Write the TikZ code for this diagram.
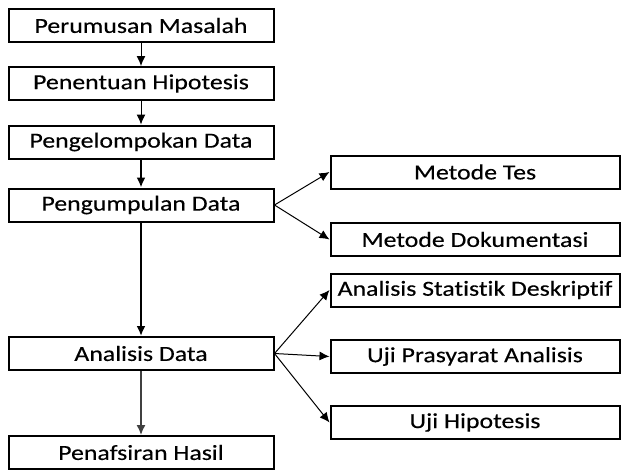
\documentclass[tikz,border=0pt]{standalone}
\usepackage{fontspec}
\setmainfont{Carlito}[FakeStretch=1.2, FakeBold=0.3, Ligatures=NoCommon]
\usetikzlibrary{arrows.meta}

\tikzset{
  caja/.style={draw, line width=2pt, minimum height=33pt, inner sep=0pt,
    font=\fontsize{21.5}{24}\selectfont},
  cajaizq/.style={caja, minimum width=265pt},
  cajader/.style={caja, minimum width=289pt},
  flecha/.style={-{Latex[length=10pt,width=9pt]}, line width=1pt},
  flechagruesa/.style={flecha, line width=2.2pt}
}

\begin{document}
\begin{tikzpicture}[x=1pt, y=-1pt]
    \useasboundingbox (0,0) rectangle (624,472);

    % Cajas de la izquierda
    \node[cajaizq] (perumusan) at (141,25.5) {Perumusan Masalah};
    \node[cajaizq] (penentuan) at (141,83.5) {Penentuan Hipotesis};
    \node[cajaizq] (pengelompokan) at (141,142) {Pengelompokan Data};
    \node[cajaizq] (pengumpulan) at (141,205) {Pengumpulan Data};
    \node[cajaizq] (analisis) at (141,353.5) {Analisis Data};
    \node[cajaizq] (penafsiran) at (141,452.5) {Penafsiran Hasil};

    % Cajas de la derecha
    \node[cajader] (tes) at (475,172) {Metode Tes};
    \node[cajader] (dokumentasi) at (475,239.5) {Metode Dokumentasi};
    \node[cajader] (deskriptif) at (475,290) {Analisis Statistik Deskriptif};
    \node[cajader] (prasyarat) at (475,356.5) {Uji Prasyarat Analisis};
    \node[cajader] (ujihipotesis) at (475,422.5) {Uji Hipotesis};

    % Flechas verticales
    \draw[flecha] (perumusan) -- (penentuan);
    \draw[flecha] (penentuan) -- (pengelompokan);
    \draw[flechagruesa] (pengelompokan) -- (pengumpulan);
    \draw[flechagruesa] (pengumpulan) -- (analisis);
    \draw[flecha, line width=1.5pt, black!75] (analisis) -- (penafsiran);

    % Flechas hacia la derecha
    \draw[flecha] (pengumpulan.east) -- (tes.west);
    \draw[flecha] (pengumpulan.east) -- (dokumentasi.west);
    \draw[flecha] (analisis.east) -- (deskriptif.west);
    \draw[flecha] (analisis.east) -- (prasyarat.west);
    \draw[flecha] (analisis.east) -- (ujihipotesis.west);
\end{tikzpicture}
\end{document}
